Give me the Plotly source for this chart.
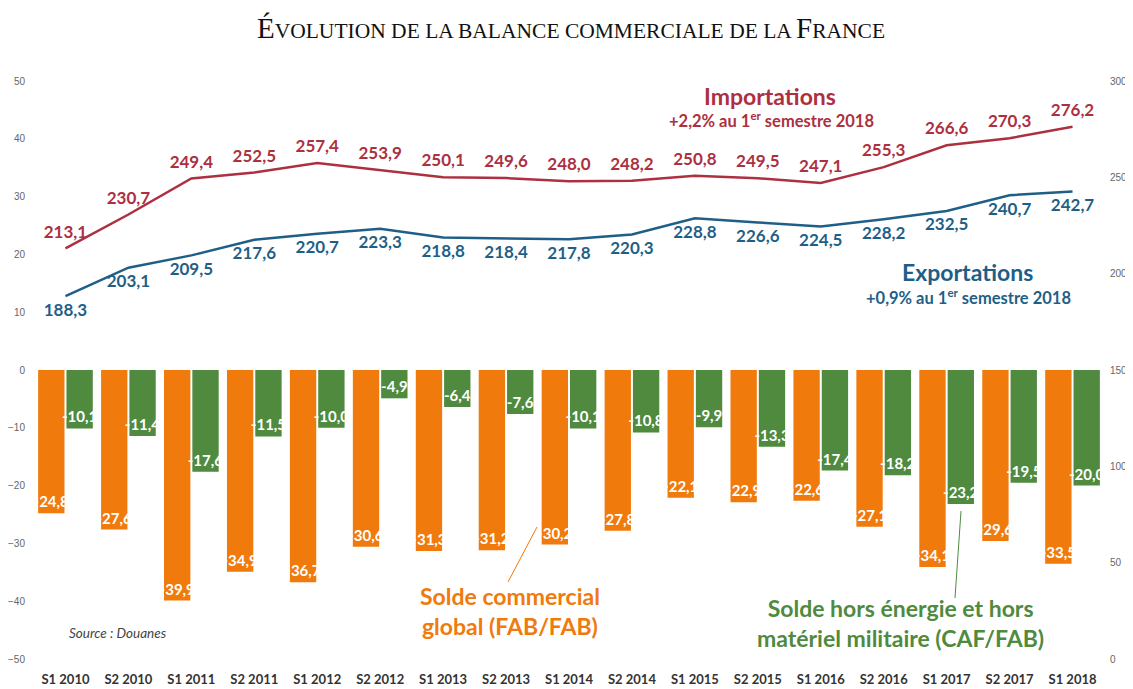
import plotly.graph_objects as go

categories = ["S1 2010", "S2 2010", "S1 2011", "S2 2011", "S1 2012", "S2 2012",
              "S1 2013", "S2 2013", "S1 2014", "S2 2014", "S1 2015", "S2 2015",
              "S1 2016", "S2 2016", "S1 2017", "S2 2017", "S1 2018"]
importations = [213.1, 230.7, 249.4, 252.5, 257.4, 253.9, 250.1, 249.6, 248.0,
                248.2, 250.8, 249.5, 247.1, 255.3, 266.6, 270.3, 276.2]
exportations = [188.3, 203.1, 209.5, 217.6, 220.7, 223.3, 218.8, 218.4, 217.8,
                220.3, 228.8, 226.6, 224.5, 228.2, 232.5, 240.7, 242.7]
solde_global = [-24.8, -27.6, -39.9, -34.9, -36.7, -30.6, -31.3, -31.2, -30.2,
                -27.8, -22.1, -22.9, -22.6, -27.1, -34.1, -29.6, -33.5]
solde_hors = [-10.1, -11.4, -17.6, -11.5, -10.0, -4.9, -6.4, -7.6, -10.1,
              -10.8, -9.9, -13.3, -17.4, -18.2, -23.2, -19.5, -20.0]
left_ticks = [50, 40, 30, 20, 10, 0, -10, -20, -30, -40, -50]
right_ticks = [300, 250, 200, 150, 100, 50, 0]


def fr(v):
    return f"{v:.1f}".replace(".", ",")


RED = "#ad3040"
BLUE = "#1f5f87"
ORANGE = "#f07a0c"
GREEN = "#4f8a3f"
FONT = "Lato"

# the page body adds an 8px offset; figure is sized to fill the window
OFF = 8
W, H = 1133 - OFF, 689 - OFF
PL, PR, PT, PB = 34, 1104, 81, 659   # plot area in window pixels
L, R, T, B = PL - OFF, 1133 - PR, PT - OFF, 689 - PB


def px(x):
    return (x - PL) / (PR - PL)


def py(y):
    return (PB - y) / (PB - PT)


fig = go.Figure()

fig.add_trace(go.Bar(
    x=categories, y=solde_global, name="Solde commercial global",
    marker=dict(color=ORANGE, line=dict(width=0)),
    text=[fr(v) for v in solde_global], textposition="inside",
    insidetextanchor="end", constraintext="none", textangle=0,
    textfont=dict(family=FONT, size=15, color="white", weight="bold"),
    yaxis="y", showlegend=False))
fig.add_trace(go.Bar(
    x=categories, y=solde_hors, name="Solde hors énergie",
    marker=dict(color=GREEN, line=dict(width=0)),
    text=[fr(v) for v in solde_hors], textposition="inside",
    insidetextanchor="end", constraintext="none", textangle=0,
    textfont=dict(family=FONT, size=15, color="white", weight="bold"),
    yaxis="y", showlegend=False))

fig.add_trace(go.Scatter(
    x=categories, y=importations, mode="lines+markers+text", name="Importations",
    line=dict(color=RED, width=2.5), marker=dict(size=9, opacity=0, color=RED),
    text=[fr(v) for v in importations], textposition="top center",
    textfont=dict(family=FONT, size=17, color=RED, weight="bold"),
    yaxis="y2", showlegend=False, cliponaxis=False))
fig.add_trace(go.Scatter(
    x=categories, y=exportations, mode="lines+markers+text", name="Exportations",
    line=dict(color=BLUE, width=2.5), marker=dict(size=9, opacity=0, color=BLUE),
    text=[fr(v) for v in exportations], textposition="bottom center",
    textfont=dict(family=FONT, size=17, color=BLUE, weight="bold"),
    yaxis="y2", showlegend=False, cliponaxis=False))

title_text = ('<span style="font-size:29px">É</span>VOLUTION DE LA BALANCE COMMERCIALE DE LA '
              '<span style="font-size:29px">F</span>RANCE')

fig.update_layout(
    width=W, height=H,
    margin=dict(l=L, r=R, t=T, b=B, autoexpand=False),
    paper_bgcolor="white", plot_bgcolor="white",
    barmode="group", bargap=0.1, bargroupgap=0.07,
    title=dict(text=title_text, x=(571 - OFF) / W, xanchor="center",
               y=1 - (30 - OFF) / H, yanchor="middle",
               font=dict(family="Liberation Serif", size=21.5, color="#111")),
    xaxis=dict(type="category", range=[-0.5, len(categories) - 0.5], showgrid=False,
               zeroline=False, showline=False, automargin=False, ticks="outside",
               ticklen=8, tickcolor="rgba(0,0,0,0)",
               tickfont=dict(family=FONT, size=13, color="#333", weight="bold")),
    yaxis=dict(range=[-50, 50], tickvals=left_ticks, showgrid=False, zeroline=False,
               automargin=False, showline=False, ticks="outside", ticklen=6,
               tickcolor="rgba(0,0,0,0)",
               tickfont=dict(family="Liberation Sans", size=10, color="#666")),
    yaxis2=dict(range=[0, 300], tickvals=right_ticks, overlaying="y", side="right",
                automargin=False, showgrid=False, zeroline=False, showline=False,
                ticks="outside", ticklen=3, tickcolor="rgba(0,0,0,0)",
                tickfont=dict(family="Liberation Sans", size=10, color="#666")),
    font=dict(family=FONT),
)

annots = [
    dict(text="Importations", x=px(770), y=py(96), size=23, color=RED),
    dict(text="+2,2% au 1<sup>er</sup> semestre 2018", x=px(771), y=py(120), size=16.5, color=RED),
    dict(text="Exportations", x=px(967), y=py(272), size=23, color=BLUE),
    dict(text="+0,9% au 1<sup>er</sup> semestre 2018", x=px(968), y=py(297), size=16.5, color=BLUE),
    dict(text="Solde commercial<br>global (FAB/FAB)", x=px(510), y=py(611), size=23, color=ORANGE),
    dict(text="Solde hors énergie et hors<br>matériel militaire (CAF/FAB)", x=px(900), y=py(623),
         size=23, color=GREEN),
]
for a in annots:
    fig.add_annotation(text=a["text"], x=a["x"], y=a["y"], xref="paper", yref="paper",
                       xanchor="center", yanchor="middle", showarrow=False,
                       font=dict(family=FONT, size=a["size"], color=a["color"], weight="bold"))

fig.add_annotation(text="<i>Source : Douanes</i>", x=px(67), y=py(633), xref="paper", yref="paper",
                   xanchor="left", yanchor="middle", showarrow=False,
                   font=dict(family=FONT, size=13.5, color="#444"))

fig.add_shape(type="line", xref="paper", yref="paper", x0=px(537), y0=py(527), x1=px(508), y1=py(582),
              line=dict(color=ORANGE, width=1))
fig.add_shape(type="line", xref="paper", yref="paper", x0=px(961), y0=py(511), x1=px(955), y1=py(598),
              line=dict(color=GREEN, width=1))

fig.write_html("out.html")
